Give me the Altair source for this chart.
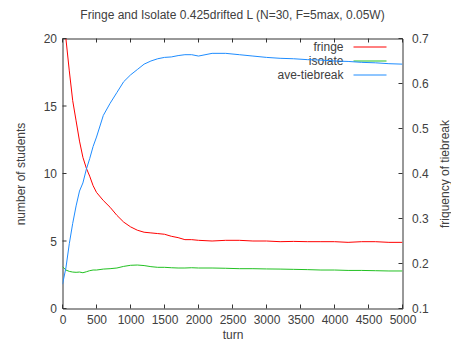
import altair as alt
import pandas as pd

turns = [0, 50, 100, 150, 200, 250, 300, 350, 400, 450, 500, 600, 700, 800, 900,
         1000, 1100, 1200, 1300, 1400, 1500, 1600, 1700, 1800, 1900, 2000, 2200,
         2400, 2600, 2800, 3000, 3200, 3400, 3600, 3800, 4000, 4200, 4400, 4600,
         4800, 5000]

fringe = [22.2, 20.0, 17.6, 15.4, 13.9, 12.4, 11.2, 10.4, 9.8, 9.1, 8.6, 8.0, 7.5,
          6.9, 6.4, 6.05, 5.8, 5.65, 5.6, 5.55, 5.5, 5.35, 5.25, 5.1, 5.1, 5.05,
          5.0, 5.05, 5.05, 5.0, 5.0, 4.95, 4.97, 4.95, 4.95, 4.95, 4.9, 4.95, 4.95,
          4.9, 4.9]

isolate = [3.1, 2.85, 2.75, 2.7, 2.68, 2.7, 2.65, 2.72, 2.8, 2.85, 2.85, 2.92, 2.95,
           3.0, 3.12, 3.2, 3.22, 3.18, 3.1, 3.05, 3.05, 3.02, 3.0, 3.0, 3.02, 3.0,
           3.0, 2.98, 2.95, 2.95, 2.93, 2.92, 2.9, 2.88, 2.85, 2.85, 2.82, 2.82,
           2.8, 2.78, 2.78]

tiebreak = [0.154, 0.19, 0.244, 0.289, 0.328, 0.361, 0.379, 0.409, 0.433, 0.46,
            0.481, 0.529, 0.556, 0.58, 0.604, 0.619, 0.631, 0.643, 0.65, 0.655,
            0.658, 0.659, 0.662, 0.664, 0.664, 0.661, 0.667, 0.667, 0.664, 0.661,
            0.658, 0.656, 0.655, 0.653, 0.652, 0.650, 0.649, 0.647, 0.646, 0.644,
            0.643]

x_ticks = [0, 500, 1000, 1500, 2000, 2500, 3000, 3500, 4000, 4500, 5000]
y_ticks = [0, 5, 10, 15, 20]
y2_ticks = [0.1, 0.2, 0.3, 0.4, 0.5, 0.6, 0.7]

legend_names = ["fringe", "isolate", "ave-tiebreak"]
colors = ["#ff0000", "#22c022", "#1e8cff"]

W, H = 340, 270
FONT = "Liberation Sans"
TXT = "#404040"

df = pd.DataFrame({"turn": turns, "fringe": fringe, "isolate": isolate,
                   "tiebreak": tiebreak})
xt = pd.DataFrame({"turn": x_ticks})
yt = pd.DataFrame({"fringe": y_ticks})
y2t = pd.DataFrame({"tiebreak": y2_ticks})

xscale = alt.Scale(domain=[0, 5000], nice=False)
yscale = alt.Scale(domain=[0, 20], nice=False)
y2scale = alt.Scale(domain=[0.1, 0.7], nice=False, zero=False)

xaxis = alt.Axis(values=x_ticks, format="d", title="turn", tickSize=0, domain=False,
                 grid=False, labelPadding=6, titlePadding=4, labelFlush=False)
yaxis = alt.Axis(values=y_ticks, title="number of students", tickSize=0, domain=False,
                 grid=False, labelPadding=6, titlePadding=16)
y2axis = alt.Axis(values=y2_ticks, format=".1f", title="friquency of tiebreak",
                  orient="right", tickSize=0, domain=False, grid=False,
                  labelPadding=9, titlePadding=23, titleAngle=270,
                  titleBaseline="bottom")

X = alt.X("turn:Q", scale=xscale, axis=xaxis)
Y = alt.Y("fringe:Q", scale=yscale, axis=yaxis)
Y2 = alt.Y("tiebreak:Q", scale=y2scale, axis=y2axis)

red = alt.Chart(df).mark_line(color=colors[0], strokeWidth=1, clip=True).encode(
    x=X, y=Y,
)
green = alt.Chart(df).mark_line(color=colors[1], strokeWidth=1, clip=True).encode(
    x=X, y=alt.Y("isolate:Q", scale=yscale, axis=yaxis),
)
yticks_l = alt.Chart(yt).mark_rule(color="#333333").encode(
    y=Y, x=alt.value(0), x2=alt.value(4),
)
xticks_b = alt.Chart(xt).mark_rule(color="#333333").encode(
    x=X, y=alt.value(H), y2=alt.value(H - 4),
)
xticks_t = alt.Chart(xt).mark_rule(color="#333333").encode(
    x=X, y=alt.value(0), y2=alt.value(4),
)

legend_layers = []
for i, (name, col) in enumerate(zip(legend_names, colors)):
    yy = 8.5 + 14 * i
    legend_layers.append(
        alt.Chart(pd.DataFrame({"n": [name]})).mark_text(
            align="right", baseline="middle", font=FONT, fontSize=12, color=TXT
        ).encode(text="n:N", x=alt.value(281), y=alt.value(yy))
    )
    legend_layers.append(
        alt.Chart(pd.DataFrame({"n": [name]})).mark_rule(color=col, strokeWidth=1).encode(
            x=alt.value(291), x2=alt.value(324), y=alt.value(yy)
        )
    )

left = alt.layer(red, green, yticks_l, xticks_b, xticks_t, *legend_layers)

blue = alt.Chart(df).mark_line(color=colors[2], strokeWidth=1, clip=True).encode(
    x=X, y=Y2,
)
yticks_r = alt.Chart(y2t).mark_rule(color="#333333").encode(
    y=Y2, x=alt.value(W), x2=alt.value(W - 4),
)
right = alt.layer(blue, yticks_r)

chart = alt.layer(left, right).resolve_scale(y="independent").properties(
    width=W, height=H,
    title=alt.TitleParams("Fringe and Isolate 0.425drifted L (N=30, F=5max, 0.05W)",
                          fontSize=12, fontWeight="normal", font=FONT, color=TXT,
                          anchor="middle", offset=11),
    autosize=alt.AutoSizeParams(type="none"),
    padding={"left": 54.5, "top": 30.5, "right": 48.5, "bottom": 35.5},
).configure_view(stroke="#333333", strokeWidth=1).configure_axis(
    labelFont=FONT, titleFont=FONT, labelFontSize=12, titleFontSize=12,
    labelColor=TXT, titleColor=TXT, titleFontWeight="normal",
)

chart.save("out.html", embed_options={"renderer": "svg", "actions": False})
